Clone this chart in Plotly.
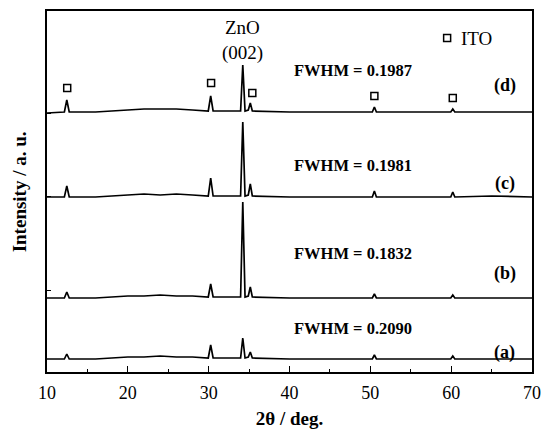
import plotly.graph_objects as go

# 2-theta sampling points shared by all four patterns (deg.)
two_theta = [10, 12.15, 12.45, 12.75, 16, 20, 22, 24, 26, 28, 29.95, 30.25, 30.55,
             33.95, 34.22, 34.5, 34.9, 35.15, 35.4, 40, 45, 50.25, 50.5, 50.75,
             55, 59.95, 60.2, 60.45, 65, 70]

# Offset intensities (a. u.) for each sample
int_a = [13, 13, 18, 13, 13, 15, 15, 16, 15, 15, 14, 27, 14,
         14, 34, 14, 15, 20, 14, 13, 13, 13, 17, 13,
         13, 13, 16, 13, 13, 13]
int_b = [74, 74, 80, 74, 74, 76, 76, 77, 76, 76, 75, 88, 75,
         75, 170, 75, 76, 85, 75, 74, 74, 74, 78, 74,
         74, 74, 77, 74, 74, 74]
int_c = [175, 175, 186, 175, 175, 177, 178, 177, 178, 177, 176, 194, 176,
         176, 250, 176, 177, 188, 176, 175, 175, 175, 181, 175,
         175, 175, 180, 175, 176, 175]
int_d = [259, 260, 272, 260, 260, 262, 263, 263, 263, 262, 261, 276, 261,
         261, 307, 261, 262, 269, 261, 260, 260, 260, 265, 260,
         260, 260, 263, 260, 260, 260]

# ITO reflection markers above pattern (d)
ito_x = [12.5, 30.3, 35.4, 50.5, 60.2]
ito_y = [284, 289, 279, 276, 274]

# Sample labels
sample_labels = ["(a)", "(b)", "(c)", "(d)"]
sample_label_y = [20, 99, 189, 287]
fwhm_values = ["0.2090", "0.1832", "0.1981", "0.1987"]
fwhm_label_y = [44, 119, 207, 302]

x_ticks = [10, 20, 30, 40, 50, 60, 70]
y_ticks = [82, 176, 259]

SERIF = "Liberation Serif, Times New Roman, serif"

fig = go.Figure()
for ys in (int_a, int_b, int_c, int_d):
    fig.add_trace(go.Scatter(x=two_theta, y=ys, mode="lines",
                             line=dict(color="black", width=1.7),
                             showlegend=False, hoverinfo="skip"))

fig.add_trace(go.Scatter(x=ito_x, y=ito_y, mode="markers",
                         marker=dict(symbol="square-open", size=7, color="black",
                                     line=dict(width=1.5, color="black")),
                         showlegend=False, hoverinfo="skip"))

# ITO key
fig.add_trace(go.Scatter(x=[59.5], y=[334], mode="markers",
                         marker=dict(symbol="square-open", size=7, color="black",
                                     line=dict(width=1.5, color="black")),
                         showlegend=False, hoverinfo="skip"))
fig.add_annotation(x=61.0, y=334, text="ITO", showarrow=False, xanchor="left",
                   yanchor="middle", font=dict(family=SERIF, size=19, color="black"))

# ZnO (002) label
fig.add_annotation(x=34.2, y=345, text="ZnO", showarrow=False, xanchor="center",
                   yanchor="middle", font=dict(family=SERIF, size=19, color="black"))
fig.add_annotation(x=34.2, y=319, text="(002)", showarrow=False, xanchor="center",
                   yanchor="middle", font=dict(family=SERIF, size=19, color="black"))

for lab, ly, fw, fy in zip(sample_labels, sample_label_y, fwhm_values, fwhm_label_y):
    fig.add_annotation(x=66.65, y=ly, text="<b>" + lab + "</b>", showarrow=False,
                       xanchor="center", yanchor="middle",
                       font=dict(family=SERIF, size=18, color="black"))
    fig.add_annotation(x=47.8, y=fy, text="<b>FWHM = " + fw + "</b>", showarrow=False,
                       xanchor="center", yanchor="middle",
                       font=dict(family=SERIF, size=16.5, color="black"))

# Y axis title
fig.add_annotation(xref="paper", yref="paper", x=-0.056, y=0.5,
                   text="<b>Intensity / a. u.</b>", textangle=-90, showarrow=False,
                   xanchor="center", yanchor="middle",
                   font=dict(family=SERIF, size=19, color="black"))

fig.update_layout(
    width=546, height=429,
    margin=dict(l=47, r=14, t=11, b=57),
    paper_bgcolor="white", plot_bgcolor="white",
    font=dict(family=SERIF, color="black"),
    xaxis=dict(range=[10, 70], tickvals=x_ticks, ticks="inside", ticklen=6,
               tickwidth=1.2, tickcolor="black", automargin=False,
               ticklabelstandoff=4,
               minor=dict(dtick=5, tick0=10, ticks="inside", ticklen=3,
                          tickwidth=1.2, tickcolor="black"),
               showgrid=False, zeroline=False,
               showline=True, linecolor="black", linewidth=1.6, mirror=True,
               tickfont=dict(family=SERIF, size=18, color="black"),
               title=dict(text="<b>2θ / deg.</b>", standoff=10,
                          font=dict(family=SERIF, size=19, color="black"))),
    yaxis=dict(range=[0, 361], tickvals=y_ticks, ticktext=["", "", ""],
               ticks="inside", ticklen=4, tickwidth=1.2, tickcolor="black",
               automargin=False,
               showgrid=False, zeroline=False,
               showline=True, linecolor="black", linewidth=1.6, mirror=True),
)

fig.write_html("out.html")
